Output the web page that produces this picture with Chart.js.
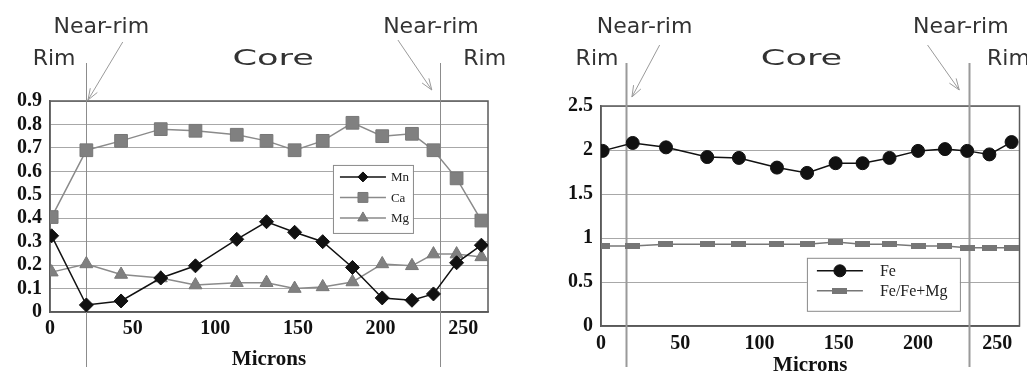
<!DOCTYPE html>
<html lang="en">
<head>
  <meta charset="utf-8">
  <title>Zoning profiles</title>
  <script src="https://cdn.jsdelivr.net/npm/chart.js"></script>
  <style>
    html, body { margin: 0; padding: 0; background: #fff; overflow: hidden; }
    .panel { position: absolute; top: 0; height: 380px; }
  </style>
</head>
<body>
  <div class="panel" style="left:0;width:513px"><canvas id="leftChart"></canvas></div>
  <div class="panel" style="left:513px;width:514px"><canvas id="rightChart"></canvas></div>

  <script>
    // left profile: Mn, Ca, Mg
    const leftMicrons = [1, 22, 43, 67, 88, 113, 131, 148, 165, 183, 201, 219, 232, 246, 261];
    const mnValues = [0.325, 0.03, 0.047, 0.145, 0.197, 0.31, 0.385, 0.34, 0.30, 0.19, 0.06, 0.05, 0.077, 0.21, 0.285];
    const caValues = [0.405, 0.69, 0.73, 0.78, 0.773, 0.756, 0.73, 0.69, 0.73, 0.807, 0.75, 0.76, 0.69, 0.57, 0.39];
    const mgValues = [0.17, 0.205, 0.16, 0.145, 0.115, 0.125, 0.125, 0.10, 0.107, 0.128, 0.205, 0.197, 0.247, 0.247, 0.235];

    // right profile: Fe, Fe/Fe+Mg
    const rightMicrons = [1, 20, 41, 67, 87, 111, 130, 148, 165, 182, 200, 217, 231, 245, 259];
    const feValues = [1.99, 2.08, 2.03, 1.92, 1.91, 1.80, 1.74, 1.85, 1.85, 1.91, 1.99, 2.01, 1.99, 1.95, 2.09];
    const feRatioValues = [0.91, 0.91, 0.93, 0.93, 0.93, 0.93, 0.93, 0.955, 0.93, 0.93, 0.91, 0.91, 0.89, 0.89, 0.89];

    // zone markers (microns)
    const leftNearRim = [22, 236];
    const rightNearRim = [16, 232];

    const serif = '"Liberation Serif", "Times New Roman", serif';
    const sans = '"DejaVu Sans", sans-serif';

    function pts(xs, ys) {
      return xs.map((x, i) => ({ x, y: ys[i] }));
    }

    // flat dash marker for Fe/Fe+Mg
    function dashMarker(w, h, color) {
      const c = document.createElement('canvas');
      c.width = w;
      c.height = h;
      const g = c.getContext('2d');
      g.fillStyle = color;
      g.fillRect(0, 0, w, h);
      return c;
    }
    const dash = dashMarker(15, 6, '#767676');

    // frame, near-rim lines, zone labels and arrows
    const zonePlugin = {
      id: 'zones',
      beforeDatasetsDraw(chart, args, opts) {
        const ctx = chart.ctx;
        const a = chart.chartArea;
        const xs = chart.scales.x;
        ctx.save();
        ctx.strokeStyle = '#5a5a5a';
        ctx.lineWidth = 1.5;
        ctx.strokeRect(a.left, a.top, a.right - a.left, a.bottom - a.top);
        ctx.strokeStyle = opts.lineColor;
        ctx.lineWidth = opts.lineWidth;
        opts.lines.forEach(v => {
          const px = Math.round(xs.getPixelForValue(v)) + 0.5;
          ctx.beginPath();
          ctx.moveTo(px, 63);
          ctx.lineTo(px, 367);
          ctx.stroke();
        });
        ctx.restore();
      },
      afterDraw(chart, args, opts) {
        const ctx = chart.ctx;
        const xs = chart.scales.x;
        ctx.save();
        ctx.fillStyle = '#333';
        ctx.font = '22px ' + sans;
        ctx.textAlign = 'center';
        ctx.textBaseline = 'middle';
        opts.labels.forEach(l => {
          const sx = l.scaleX || 1;
          ctx.save();
          ctx.translate(xs.getPixelForValue(l.x), l.y);
          ctx.scale(sx, 1);
          ctx.fillText(l.text, 0, 0);
          ctx.restore();
        });
        ctx.strokeStyle = '#9a9a9a';
        ctx.lineWidth = 1;
        opts.arrows.forEach(ar => {
          const x0 = xs.getPixelForValue(ar.from[0]), y0 = ar.from[1];
          const x1 = xs.getPixelForValue(ar.to[0]), y1 = ar.to[1];
          const ang = Math.atan2(y1 - y0, x1 - x0);
          ctx.beginPath();
          ctx.moveTo(x0, y0);
          ctx.lineTo(x1, y1);
          ctx.moveTo(x1 - 12 * Math.cos(ang - 0.35), y1 - 12 * Math.sin(ang - 0.35));
          ctx.lineTo(x1, y1);
          ctx.lineTo(x1 - 12 * Math.cos(ang + 0.35), y1 - 12 * Math.sin(ang + 0.35));
          ctx.stroke();
        });
        ctx.restore();
      }
    };

    // legend box inside the plot area
    const boxLegend = {
      id: 'boxLegend',
      afterDraw(chart, args, opts) {
        const ctx = chart.ctx;
        const a = chart.chartArea;
        const bx = a.left + opts.left * (a.right - a.left);
        const by = a.top + opts.top * (a.bottom - a.top);
        ctx.save();
        ctx.fillStyle = '#fff';
        ctx.fillRect(bx, by, opts.width, opts.height);
        ctx.strokeStyle = '#8a8a8a';
        ctx.lineWidth = 1;
        ctx.strokeRect(bx + 0.5, by + 0.5, opts.width, opts.height);
        chart.data.datasets.forEach((ds, i) => {
          const y = by + opts.firstRow + i * opts.rowGap;
          const x0 = bx + opts.lineStart, x1 = x0 + opts.lineLength;
          ctx.strokeStyle = ds.borderColor;
          ctx.lineWidth = ds.borderWidth;
          ctx.beginPath();
          ctx.moveTo(x0, y);
          ctx.lineTo(x1, y);
          ctx.stroke();
          ctx.fillStyle = ds.pointBackgroundColor;
          ctx.strokeStyle = ds.pointBorderColor;
          ctx.lineWidth = ds.pointBorderWidth;
          Chart.helpers.drawPoint(ctx, {
            pointStyle: ds.pointStyle, rotation: 0,
            radius: ds.legendRadius, borderWidth: ds.pointBorderWidth
          }, (x0 + x1) / 2, y);
          ctx.fillStyle = '#222';
          ctx.font = opts.fontSize + 'px ' + serif;
          ctx.textAlign = 'left';
          ctx.textBaseline = 'middle';
          ctx.fillText(ds.label, x1 + opts.textGap, y + 1);
        });
        ctx.restore();
      }
    };

    function makeOptions(cfg) {
      return {
        responsive: true,
        maintainAspectRatio: false,
        animation: false,
        layout: { padding: { top: cfg.top, right: cfg.right, left: 0, bottom: 0 } },
        plugins: {
          legend: { display: false },
          tooltip: { enabled: false },
          zones: cfg.zones,
          boxLegend: cfg.legend
        },
        scales: {
          x: {
            type: 'linear',
            min: 0,
            max: cfg.xMax,
            afterFit: s => { s.height = cfg.xHeight; },
            grid: { display: false, drawTicks: false },
            border: { display: true, color: '#5a5a5a', width: 1.5 },
            ticks: {
              stepSize: 50,
              includeBounds: false,
              autoSkip: false,
              maxRotation: 0,
              padding: cfg.xTickPad,
              color: '#111',
              font: { family: serif, size: 20, weight: 'bold' },
              callback: v => (v % 50 === 0 ? v : '')
            },
            title: {
              display: true,
              text: 'Microns',
              color: '#111',
              padding: { top: 0, bottom: cfg.titlePad },
              font: { family: serif, size: 21, weight: 'bold' }
            }
          },
          y: {
            min: 0,
            max: cfg.yMax,
            afterFit: s => { s.width = cfg.yWidth; },
            grid: { color: '#a8a8a8', lineWidth: 1, drawTicks: false },
            border: { display: true, color: '#5a5a5a', width: 1.5 },
            ticks: {
              stepSize: cfg.yStep,
              autoSkip: false,
              padding: 8,
              color: '#111',
              font: { family: serif, size: 20, weight: 'bold', lineHeight: 1 },
              callback: cfg.yFormat
            }
          }
        }
      };
    }

    new Chart(document.getElementById('leftChart'), {
      type: 'line',
      data: {
        datasets: [
          {
            label: 'Mn', data: pts(leftMicrons, mnValues),
            borderColor: '#111', borderWidth: 1.5,
            pointStyle: 'rectRot', pointRadius: 7, legendRadius: 5,
            pointBackgroundColor: '#111', pointBorderColor: '#111', pointBorderWidth: 1
          },
          {
            label: 'Ca', data: pts(leftMicrons, caValues),
            borderColor: '#8a8a8a', borderWidth: 1.5,
            pointStyle: 'rect', pointRadius: 9, legendRadius: 7,
            pointBackgroundColor: '#808080', pointBorderColor: '#777', pointBorderWidth: 1
          },
          {
            label: 'Mg', data: pts(leftMicrons, mgValues),
            borderColor: '#8a8a8a', borderWidth: 1.5,
            pointStyle: 'triangle', pointRadius: 7.5, legendRadius: 6,
            pointBackgroundColor: '#808080', pointBorderColor: '#777', pointBorderWidth: 1
          }
        ]
      },
      options: makeOptions({
        top: 101, right: 25, xMax: 265, xHeight: 68, xTickPad: 5, titlePad: 8,
        yMax: 0.9, yStep: 0.1, yWidth: 50,
        yFormat: v => (v === 0 ? '0' : v.toFixed(1)),
        zones: {
          lines: leftNearRim, lineColor: '#8c8c8c', lineWidth: 1,
          labels: [
            { text: 'Near-rim', x: 31, y: 27 },
            { text: 'Rim', x: 2.5, y: 59 },
            { text: 'Core', x: 135, y: 59, scaleX: 1.6 },
            { text: 'Near-rim', x: 230.5, y: 27 },
            { text: 'Rim', x: 263, y: 59 }
          ],
          arrows: [
            { from: [44, 42], to: [23, 100] },
            { from: [210.5, 40], to: [231, 90] }
          ]
        },
        legend: {
          left: 0.646, top: 0.303, width: 80, height: 68,
          firstRow: 12, rowGap: 20.5, lineStart: 7, lineLength: 46,
          textGap: 5, fontSize: 13
        }
      }),
      plugins: [zonePlugin, boxLegend]
    });

    new Chart(document.getElementById('rightChart'), {
      type: 'line',
      data: {
        datasets: [
          {
            label: 'Fe', data: pts(rightMicrons, feValues),
            borderColor: '#111', borderWidth: 1.5,
            pointStyle: 'circle', pointRadius: 6.5, legendRadius: 6,
            pointBackgroundColor: '#111', pointBorderColor: '#111', pointBorderWidth: 1
          },
          {
            label: 'Fe/Fe+Mg', data: pts(rightMicrons, feRatioValues),
            borderColor: '#777', borderWidth: 1.5,
            pointStyle: dash, pointRadius: 7, legendRadius: 7,
            pointBackgroundColor: '#777', pointBorderColor: '#777', pointBorderWidth: 0
          }
        ]
      },
      options: makeOptions({
        top: 106, right: 5, xMax: 264, xHeight: 54, xTickPad: 6, titlePad: 2,
        yMax: 2.5, yStep: 0.5, yWidth: 88,
        yFormat: v => String(v),
        zones: {
          lines: rightNearRim, lineColor: '#9a9a9a', lineWidth: 2,
          labels: [
            { text: 'Near-rim', x: 27.5, y: 27 },
            { text: 'Rim', x: -2.5, y: 59 },
            { text: 'Core', x: 126.5, y: 59, scaleX: 1.6 },
            { text: 'Near-rim', x: 227, y: 27 },
            { text: 'Rim', x: 257, y: 59 }
          ],
          arrows: [
            { from: [37, 45], to: [19.5, 97] },
            { from: [206, 45], to: [226, 90] }
          ]
        },
        legend: {
          left: 0.492, top: 0.69, width: 153, height: 53,
          firstRow: 13, rowGap: 20, lineStart: 10, lineLength: 46,
          textGap: 17, fontSize: 16
        }
      }),
      plugins: [zonePlugin, boxLegend]
    });
  </script>
</body>
</html>
